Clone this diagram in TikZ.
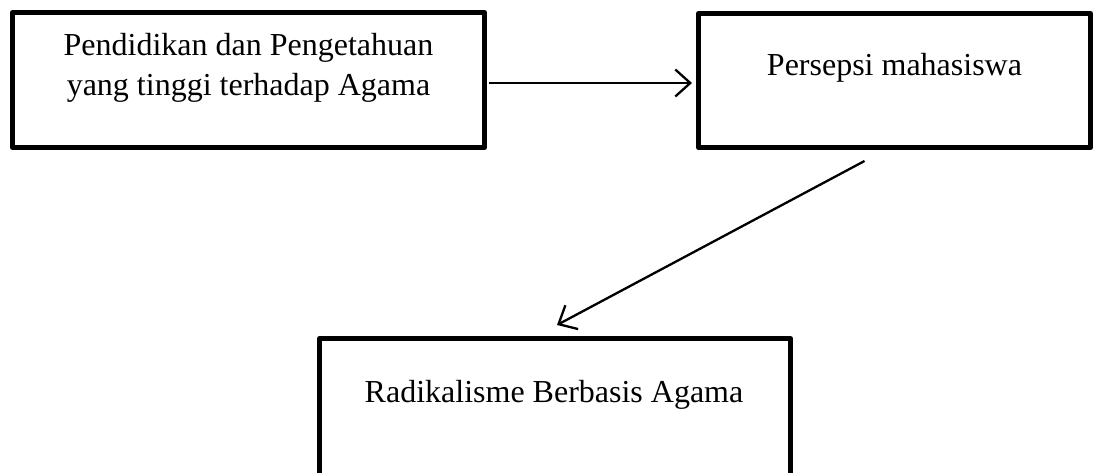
\documentclass[tikz,border=0pt]{standalone}
\usepackage{fontspec}
\setmainfont{Liberation Serif}
\usetikzlibrary{arrows.meta}
\begin{document}
\begin{tikzpicture}[x=1pt,y=-1pt,
  boxstyle/.style={draw=black, line width=5pt, line join=round, inner sep=0pt, minimum width=#1},
  lbl/.style={font=\fontsize{32}{40}\selectfont, inner sep=0pt, align=center},
  arr/.style={line width=2.3pt, -{Straight Barb[length=15pt,width=27pt,line width=2.3pt]}}]
\useasboundingbox (0,0) rectangle (1099,472);
\clip (0,0) rectangle (1099,472);
\fill[white] (0,0) rectangle (1099,472);
\node[boxstyle=472pt, minimum height=135pt] (b1) at (248.5,80) {};
\node[boxstyle=392pt, minimum height=134pt] (b2) at (894.5,80.5) {};
\node[boxstyle=471pt, minimum height=160pt] (b3) at (555,418.5) {};
\node[lbl] (t1) at (248.5,67.5) {Pendidikan dan Pengetahuan\\yang tinggi terhadap Agama};
\node[lbl, anchor=base] (t2) at (894.5,75) {Persepsi mahasiswa};
\node[lbl, anchor=base] (t3) at (554,402) {Radikalisme Berbasis Agama};
\draw[arr] ([xshift=2pt]b1.east |- 0,83) -- ([xshift=-4pt]b2.west |- 0,83);
\draw[arr] ([xshift=-30pt,yshift=-11pt]b2.south) -- ([xshift=2pt,yshift=11pt]b3.north);
\end{tikzpicture}
\end{document}
